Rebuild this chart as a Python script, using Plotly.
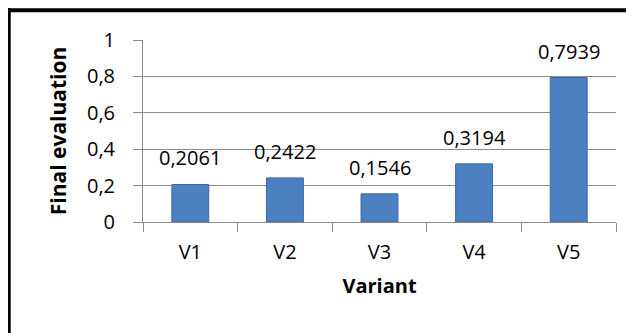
import plotly.graph_objects as go

categories = ["V1", "V2", "V3", "V4", "V5"]
values = [0.2061, 0.2422, 0.1546, 0.3194, 0.7939]
value_labels = ["0,2061", "0,2422", "0,1546", "0,3194", "0,7939"]
y_ticks = [0, 0.2, 0.4, 0.6, 0.8, 1]
y_tick_labels = ["0", "0,2", "0,4", "0,6", "0,8", "1"]

FONT = "Open Sans"
GRID = "#8c8c8c"
FS = 20

fig = go.Figure()
fig.add_trace(go.Bar(
    x=categories, y=values,
    marker=dict(color="#4c80c0", line=dict(color="#3a67a0", width=1)),
    width=0.39,
    hoverinfo="skip",
))

for c, v, t in zip(categories, values, value_labels):
    fig.add_annotation(x=c, y=v, text=t, showarrow=False, yanchor="bottom",
                       yshift=11, font=dict(family=FONT, size=FS, color="#000"))

# page body has an 8px margin, so the figure is 8px smaller and offsets shift
fig.update_layout(
    width=626, height=325,
    margin=dict(l=135, r=18, t=32, b=111, autoexpand=False),
    paper_bgcolor="white", plot_bgcolor="white",
    showlegend=False,
    font=dict(family=FONT, size=FS, color="#000"),
    xaxis=dict(
        type="category", tickson="boundaries", ticks="outside", ticklen=9,
        tickcolor=GRID, showline=True, linecolor=GRID, linewidth=1,
        showgrid=False, ticklabelstandoff=12,
        tickfont=dict(family=FONT, size=FS, color="#000"),
        title=dict(text="<b>Variant</b>", standoff=14,
                   font=dict(family=FONT, size=FS, color="#000")),
        range=[-0.5, 4.5],
    ),
    yaxis=dict(
        range=[0, 1], tickvals=y_ticks, ticktext=y_tick_labels,
        ticks="outside", ticklen=9, tickcolor=GRID,
        showline=True, linecolor=GRID, linewidth=1,
        showgrid=True, gridcolor=GRID, gridwidth=1, zeroline=False,
        ticklabelstandoff=14,
        tickfont=dict(family=FONT, size=FS, color="#000"),
        title=dict(text="<b>Final evaluation</b>", standoff=14,
                   font=dict(family=FONT, size=21, color="#000")),
    ),
    shapes=[
        dict(type="line", xref="paper", yref="paper",
             x0=(10.5 - 143) / 465, x1=(10.5 - 143) / 465,
             y0=(214 - 9) / 174, y1=(214 - 340) / 174,
             line=dict(color="black", width=5)),
        dict(type="line", xref="paper", yref="paper",
             x0=(8 - 143) / 465, x1=(640 - 143) / 465,
             y0=(214 - 11.5) / 174, y1=(214 - 11.5) / 174,
             line=dict(color="black", width=4)),
    ],
)

fig.write_html("out.html")
